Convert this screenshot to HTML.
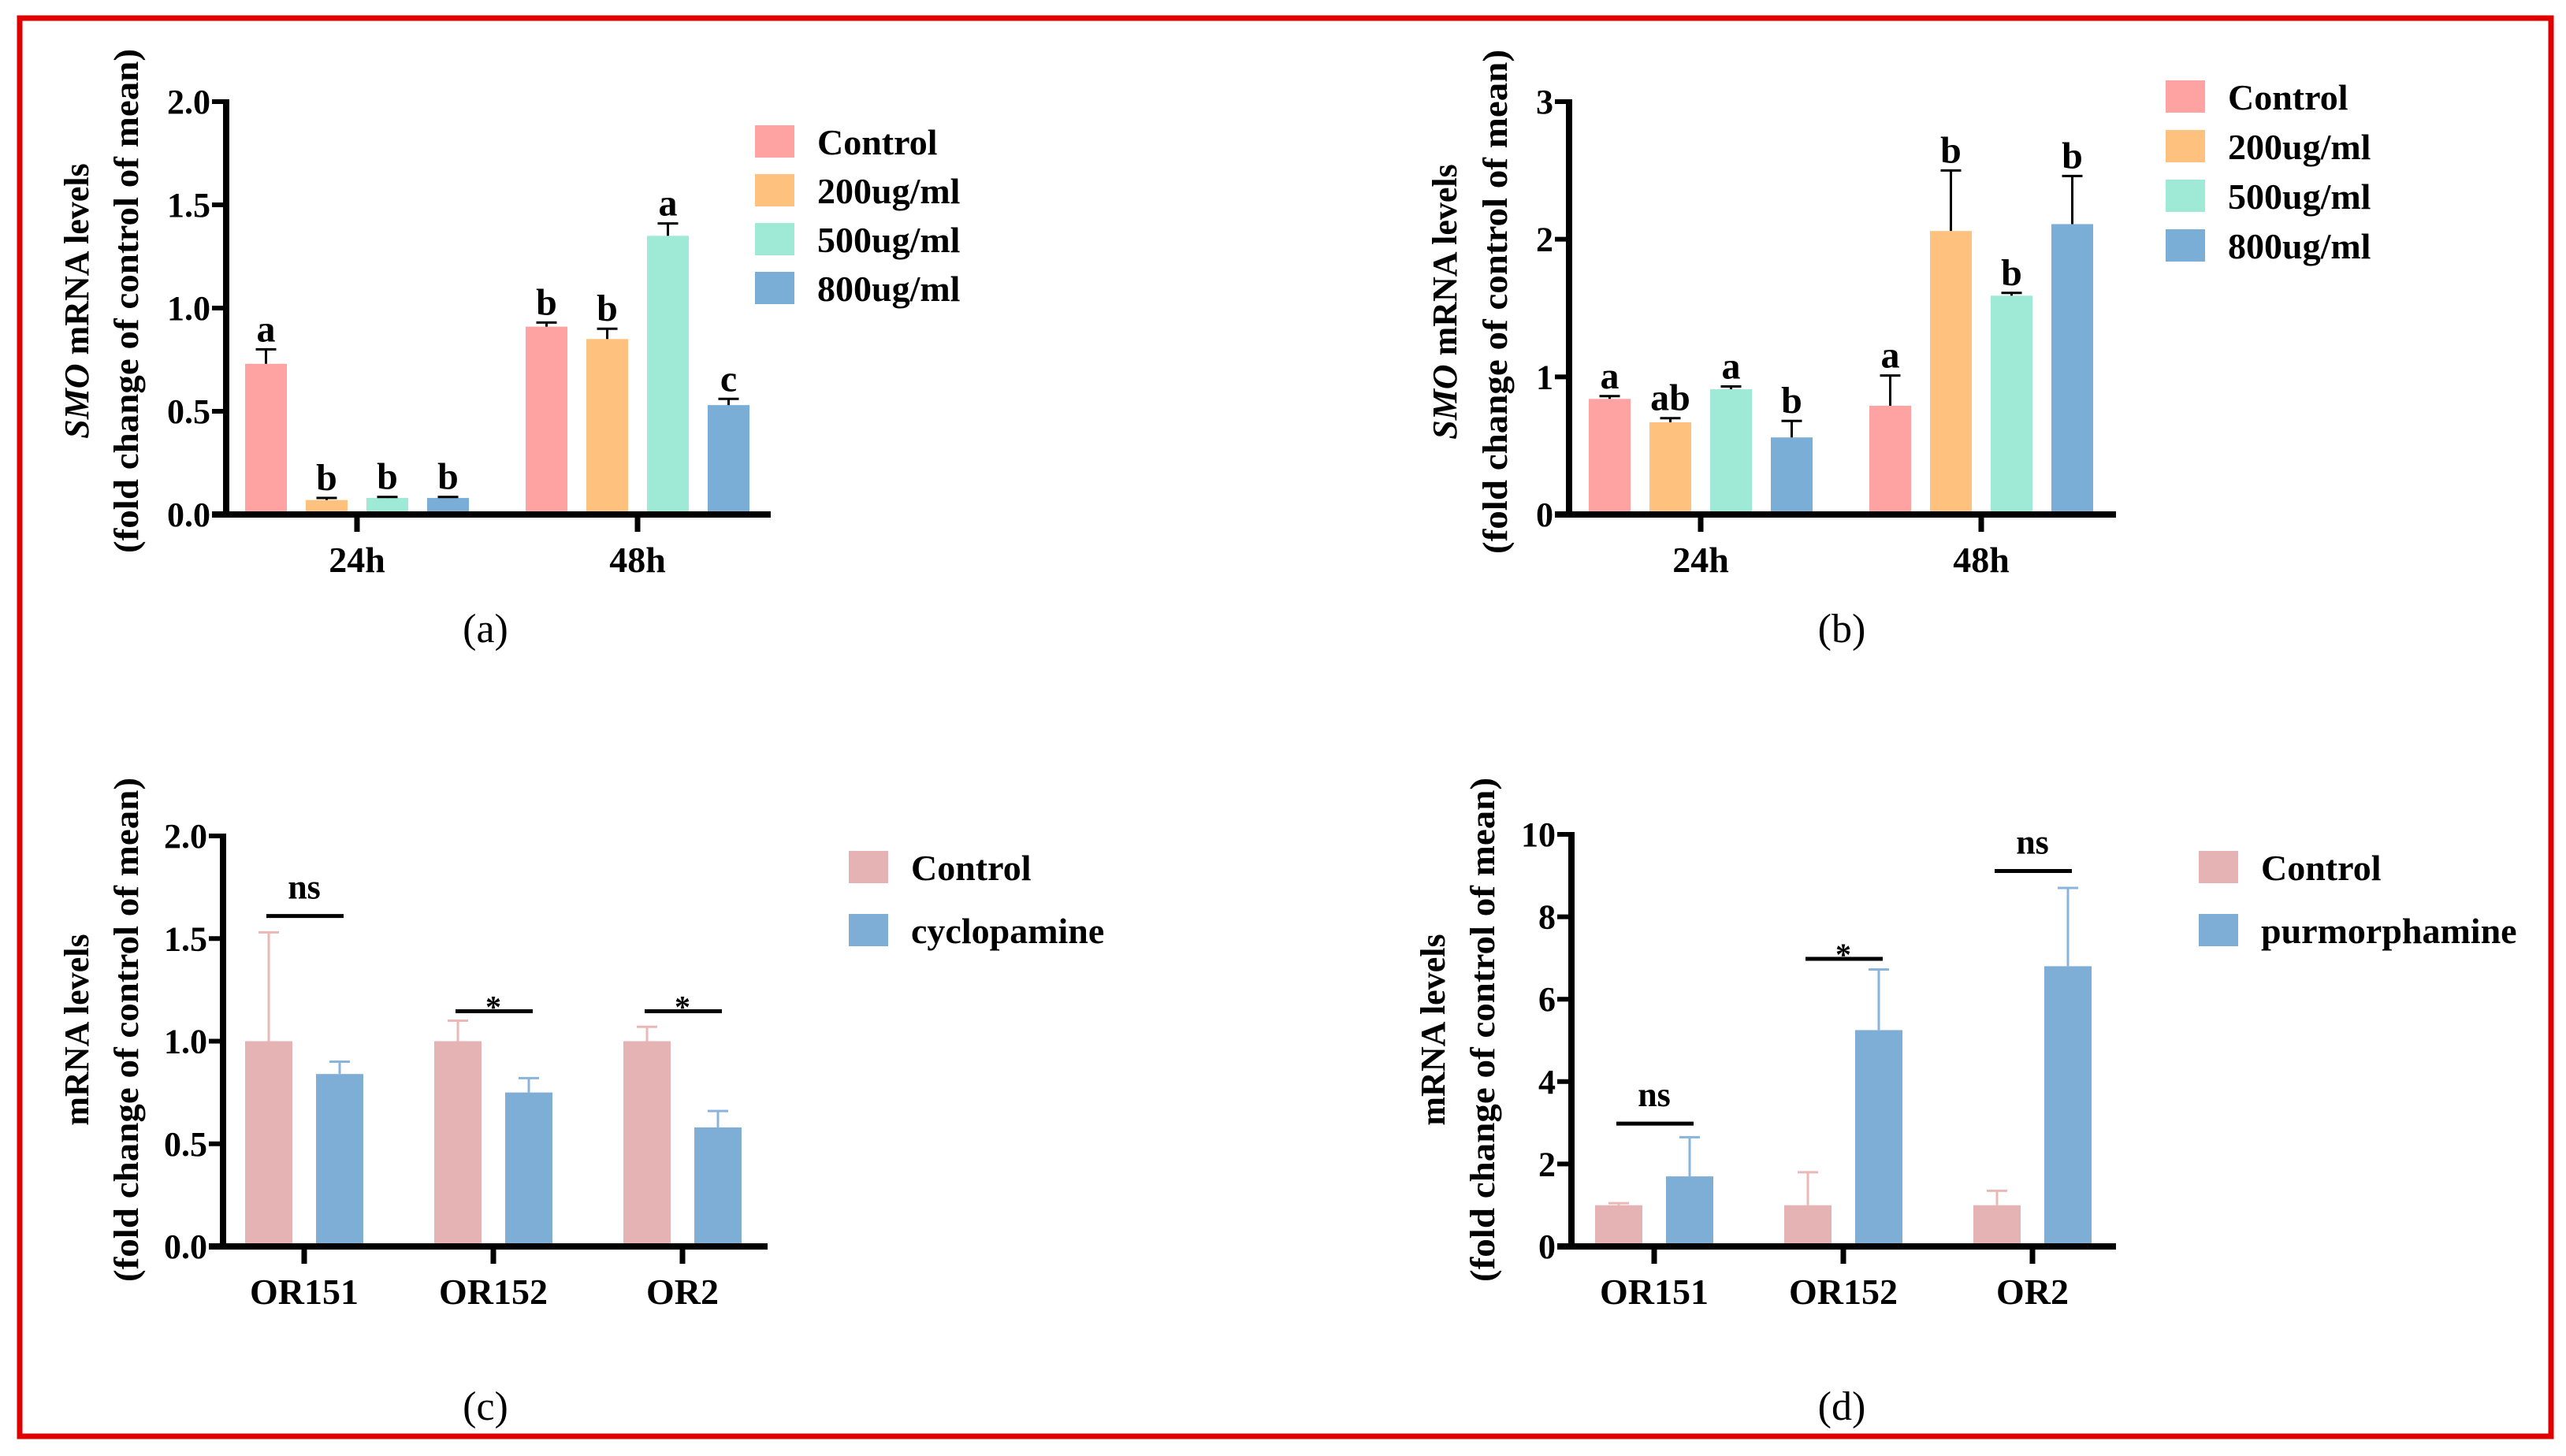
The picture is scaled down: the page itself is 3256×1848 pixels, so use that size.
<!DOCTYPE html>
<html><head><meta charset="utf-8"><style>
html,body{margin:0;padding:0;background:#fff}
svg{display:block;font-family:"Liberation Serif",serif}
</style></head><body>
<svg id="fig" width="3256" height="1848" viewBox="0 0 3256 1848" xmlns="http://www.w3.org/2000/svg">
<rect x="25" y="23" width="3212" height="1800" fill="none" stroke="#e00000" stroke-width="7"/>
</svg>
<script>
// ---- data ----
const doseGroups = ["24h","48h"];
const doseSeries = ["Control","200ug/ml","500ug/ml","800ug/ml"];
const doseColors = ["#FFA2A2","#FFC27E","#9EEAD6","#7BAED6"];
const aValues = [[0.73,0.07,0.08,0.08],[0.91,0.85,1.35,0.53]];
const aErrors = [[0.80,0.08,0.085,0.085],[0.93,0.90,1.41,0.56]];
const aLetters = [["a","b","b","b"],["b","b","a","c"]];
const aTicks = ["0.0","0.5","1.0","1.5","2.0"];
const bValues = [[0.84,0.67,0.91,0.56],[0.79,2.06,1.59,2.11]];
const bErrors = [[0.86,0.70,0.93,0.68],[1.01,2.50,1.61,2.46]];
const bLetters = [["a","ab","a","b"],["a","b","b","b"]];
const bTicks = ["0","1","2","3"];
const orGroups = ["OR151","OR152","OR2"];
const cSeries = ["Control","cyclopamine"];
const dSeries = ["Control","purmorphamine"];
const cValues = [[1.0,0.84],[1.0,0.75],[1.0,0.58]];
const cErrors = [[1.53,0.90],[1.10,0.82],[1.07,0.66]];
const cSig = ["ns","*","*"];
const cSigY = [1.61,1.146,1.146];
const cTicks = ["0.0","0.5","1.0","1.5","2.0"];
const dValues = [[1.0,1.70],[1.0,5.25],[1.0,6.80]];
const dErrors = [[1.05,2.65],[1.80,6.72],[1.35,8.70]];
const dSig = ["ns","*","ns"];
const dSigY = [2.98,6.98,9.11];
const dTicks = ["0","2","4","6","8","10"];

const NS="http://www.w3.org/2000/svg";
const svg=document.getElementById('fig');
function mk(tag,attrs,parent){const e=document.createElementNS(NS,tag);for(const k in attrs)e.setAttribute(k,attrs[k]);(parent||svg).appendChild(e);return e;}

function panel(o){
  const g=mk('g',{});
  
  
  const y=v=>o.y0-(v/o.ymax)*(o.y0-o.ytop);
  // axes
  const ya=mk('line',{x1:o.ax,y1:o.ytop-3,x2:o.ax,y2:o.y0+4,stroke:'#000','stroke-width':8},g);
  
  
  const xa=mk('line',{x1:o.ax-18,y1:o.y0,x2:o.axEnd,y2:o.y0,stroke:'#000','stroke-width':8},g);
  
  
  o.ticks.forEach((t,i)=>{
    const v=i*o.ymax/(o.ticks.length-1);
    mk('line',{x1:o.ax-18,y1:y(v),x2:o.ax,y2:y(v),stroke:'#000','stroke-width':6},g);
    const tx=mk('text',{x:o.ax-20,y:y(v)+15,'text-anchor':'end','font-size':44,'font-weight':'bold'},g);
    tx.textContent=t;
    
    
  });
  // groups
  o.groups.forEach((gn,gi)=>{
    const cx=o.gx0+gi*o.gstep;
    mk('line',{x1:cx,y1:o.y0,x2:cx,y2:o.y0+22,stroke:'#000','stroke-width':7},g);
    const lt=mk('text',{x:cx,y:o.y0+73,'text-anchor':'middle','font-size':46,'font-weight':'bold'},g);
    lt.textContent=gn;
    
    
    o.values[gi].forEach((v,si)=>{
      const bx=cx+(si-(o.values[gi].length-1)/2)*o.bstep;
      const r=mk('rect',{x:bx-o.bw/2,y:y(v),width:o.bw,height:o.y0-4-y(v),fill:o.colors[si]},g);
      
      
      const ec=o.errColor?o.errColors[si]:'#000';
      const e=o.errors[gi][si];
      mk('line',{x1:bx,y1:y(v),x2:bx,y2:y(e),stroke:ec,'stroke-width':o.errColor?3:3},g);
      mk('line',{x1:bx-13,y1:y(e),x2:bx+13,y2:y(e),stroke:ec,'stroke-width':3},g);
      if(o.letters){
        const l=mk('text',{x:bx,y:y(e)-10,'text-anchor':'middle','font-size':48,'font-weight':'bold'},g);
        l.textContent=o.letters[gi][si];
        
        
      }
    });
    if(o.sig){
      const sy=y(o.sigY[gi]);
      mk('line',{x1:cx-48,y1:sy,x2:cx+50,y2:sy,stroke:'#000','stroke-width':5},g);
      const st=mk('text',{x:cx,y:o.sig[gi]==='*'?sy+8:sy-22,'text-anchor':'middle','font-size':o.sig[gi]==='*'?40:44,'font-weight':'bold'},g);
      st.textContent=o.sig[gi];
      
      
    }
  });
  // legend
  o.series.forEach((s,si)=>{
    const ly=o.ly+si*o.lstep;
    const sw=mk('rect',{x:o.lx,y:ly,width:50,height:41,fill:o.colors[si]},g);
    
    
    const t=mk('text',{x:o.lx+79,y:ly+37,'font-size':46,'font-weight':'bold'},g);
    t.textContent=s;
    
    
  });
  // y title
  const cy=o.titleCy;
  const t1=mk('text',{x:0,y:0,'text-anchor':'middle','font-size':44,'font-weight':'bold',transform:`translate(${o.tx1},${cy}) rotate(-90)`},g);
  if(o.italic){const a=mk('tspan',{'font-style':'italic'},t1);a.textContent='SMO';const b=mk('tspan',{},t1);b.textContent=' mRNA levels';}
  else t1.textContent='mRNA levels';
  
  
  const t2=mk('text',{x:0,y:0,'text-anchor':'middle','font-size':44,'font-weight':'bold',textLength:640,lengthAdjust:'spacingAndGlyphs',transform:`translate(${o.tx2},${cy}) rotate(-90)`},g);
  t2.textContent='(fold change of control of mean)';
  
  
  const pl=mk('text',{x:o.plx,y:o.ply,'text-anchor':'middle','font-size':52},g);
  pl.textContent=o.label;
  
  
}

panel({name:'panel-a',ax:287,axEnd:978,ytop:129,y0:653,ymax:2,ticks:aTicks,groups:doseGroups,gx0:453,gstep:356,bstep:77,bw:53,
  values:aValues,errors:aErrors,letters:aLetters,series:doseSeries,colors:doseColors,lx:958,ly:159,lstep:62,
  tx1:112,tx2:175,titleCy:382,italic:true,label:'(a)',plx:616,ply:815});
panel({name:'panel-b',ax:1991,axEnd:2685,ytop:129,y0:653,ymax:3,ticks:bTicks,groups:doseGroups,gx0:2158,gstep:356,bstep:77,bw:53,
  values:bValues,errors:bErrors,letters:bLetters,series:doseSeries,colors:doseColors,lx:2748,ly:102,lstep:63,
  tx1:1848,tx2:1912,titleCy:383,italic:true,label:'(b)',plx:2337,ply:815});
panel({name:'panel-c',ax:283,axEnd:974,ytop:1061,y0:1582,ymax:2,ticks:cTicks,groups:orGroups,gx0:386,gstep:240,bstep:90,bw:60,
  values:cValues,errors:cErrors,sig:cSig,sigY:cSigY,errColor:true,errColors:['#EBB8B8','#8AB4DC'],series:cSeries,colors:['#E5B3B3','#7EAED6'],
  lx:1077,ly:1080,lstep:80,tx1:112,tx2:175,titleCy:1307,label:'(c)',plx:616,ply:1802});
panel({name:'panel-d',ax:1994,axEnd:2685,ytop:1059,y0:1582,ymax:10,ticks:dTicks,groups:orGroups,gx0:2099,gstep:240,bstep:90,bw:60,
  values:dValues,errors:dErrors,sig:dSig,sigY:dSigY,errColor:true,errColors:['#EBB8B8','#8AB4DC'],series:dSeries,colors:['#E5B3B3','#7EAED6'],
  lx:2790,ly:1080,lstep:80,tx1:1833,tx2:1896,titleCy:1307,label:'(d)',plx:2337,ply:1802});
</script>
</body></html>
